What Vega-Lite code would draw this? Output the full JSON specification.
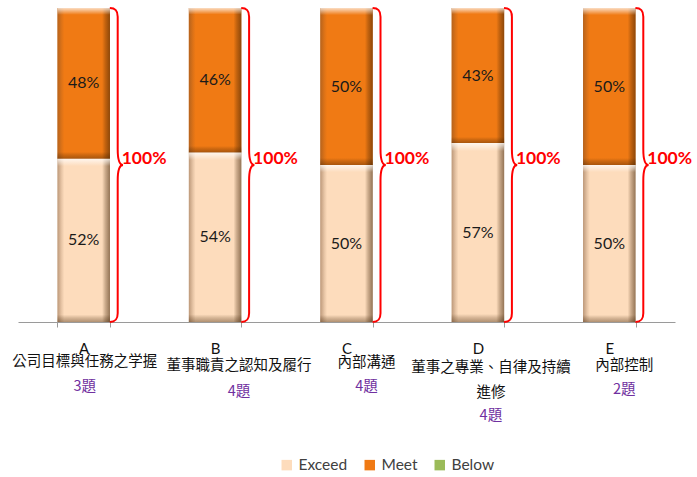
{
  "$schema": "https://vega.github.io/schema/vega-lite/v6.json",
  "width": 657,
  "height": 314,
  "autosize": {"type": "none"},
  "padding": {"left": 18, "top": 8, "right": 22, "bottom": 155},
  "background": "white",
  "config": {"view": {"stroke": null}},
  "datasets": {
    "main": [
      {"cat": "A", "series": "Exceed", "value": 0.52},
      {"cat": "A", "series": "Meet", "value": 0.48},
      {"cat": "B", "series": "Exceed", "value": 0.54},
      {"cat": "B", "series": "Meet", "value": 0.46},
      {"cat": "C", "series": "Exceed", "value": 0.50},
      {"cat": "C", "series": "Meet", "value": 0.50},
      {"cat": "D", "series": "Exceed", "value": 0.57},
      {"cat": "D", "series": "Meet", "value": 0.43},
      {"cat": "E", "series": "Exceed", "value": 0.50},
      {"cat": "E", "series": "Meet", "value": 0.50}
    ],
    "cats": [
      {"cat": "A", "total": 1},
      {"cat": "B", "total": 1},
      {"cat": "C", "total": 1},
      {"cat": "D", "total": 1},
      {"cat": "E", "total": 1}
    ]
  },
  "resolve": {"axis": {"x": "independent"}},
  "layer": [
    {
      "data": {"name": "main"},
      "mark": {"type": "bar"},
      "encoding": {
        "x": {
          "field": "cat", "type": "nominal",
          "scale": {"paddingInner": 0.6, "paddingOuter": 0.3},
          "axis": {
            "orient": "bottom", "title": null, "labelAngle": 0,
            "domainColor": "#9a9a9a", "tickColor": "#9a9a9a", "tickSize": 5,
            "tickBand": "extent", "labelPadding": 14, "labelFont": "Lato",
            "labelFontSize": 15, "labelColor": "#111111", "labelOverlap": false
          }
        },
        "y": {"field": "value", "type": "quantitative", "stack": "normalize",
              "scale": {"domain": [0, 1], "nice": false}, "axis": null},
        "order": {"field": "series", "sort": "ascending"},
        "color": {
          "field": "series", "type": "nominal",
          "scale": {"domain": ["Exceed", "Meet", "Below"],
                    "range": ["#FDDCBC", "#F07A14", "#9BBB59"]},
          "legend": {
            "orient": "none", "legendX": 261, "legendY": 449,
            "direction": "horizontal", "title": null, "symbolType": "square",
            "symbolSize": 110, "labelFont": "Lato", "labelFontSize": 15.5,
            "labelColor": "#404040", "columnPadding": 14, "labelOffset": 4,
            "symbolStrokeWidth": 0
          }
        }
      }
    },
    {
      "data": {"name": "main"},
      "mark": {
        "type": "bar",
        "fill": {
          "gradient": "linear", "x1": 0, "y1": 0, "x2": 1, "y2": 0,
          "stops": [
            {"offset": 0, "color": "rgba(110,70,40,0.45)"},
            {"offset": 0.08, "color": "rgba(110,70,40,0.15)"},
            {"offset": 0.13, "color": "rgba(110,70,40,0)"},
            {"offset": 0.85, "color": "rgba(60,30,0,0)"},
            {"offset": 0.91, "color": "rgba(60,30,0,0.25)"},
            {"offset": 1, "color": "rgba(60,30,0,0.55)"}
          ]
        }
      },
      "encoding": {
        "x": {
          "field": "cat", "type": "nominal",
          "axis": {
            "orient": "bottom", "title": null, "labelAngle": 0, "domain": false,
            "ticks": false, "labelFont": "Noto Sans CJK TC",
            "labelFontSize": 14.5, "labelColor": "#111111", "labelOverlap": false,
            "labelLineHeight": 25,
            "labelPadding": {"condition": [
              {"test": "datum.value == 'A'", "value": 32},
              {"test": "datum.value == 'B'", "value": 36},
              {"test": "datum.value == 'C'", "value": 33},
              {"test": "datum.value == 'D'", "value": 38}
            ], "value": 36},
            "labelOffset": {"condition": [
              {"test": "datum.value == 'A'", "value": 1},
              {"test": "datum.value == 'B'", "value": 24},
              {"test": "datum.value == 'C'", "value": 20},
              {"test": "datum.value == 'D'", "value": 13}
            ], "value": 15},
            "labelExpr": "{'A': '公司目標與任務之学握', 'B': '董事職責之認知及履行', 'C': '內部溝通', 'D': ['董事之專業、自律及持續', '進修'], 'E': '內部控制'}[datum.value]"
          }
        },
        "y": {"field": "value", "type": "quantitative", "stack": "normalize", "axis": null},
        "order": {"field": "series", "sort": "ascending"},
        "detail": {"field": "series"}
      }
    },
    {
      "data": {"name": "main"},
      "mark": {
        "type": "bar",
        "fill": {
          "gradient": "linear", "x1": 0, "y1": 0, "x2": 0, "y2": 1,
          "stops": [
            {"offset": 0, "color": "rgba(255,255,255,0.75)"},
            {"offset": 0.045, "color": "rgba(255,255,255,0)"},
            {"offset": 0.955, "color": "rgba(60,30,0,0)"},
            {"offset": 0.975, "color": "rgba(60,30,0,0.2)"},
            {"offset": 1, "color": "rgba(60,30,0,0.4)"}
          ]
        }
      },
      "encoding": {
        "x": {
          "field": "cat", "type": "nominal",
          "axis": {
            "orient": "bottom", "title": null, "labelAngle": 0, "domain": false,
            "ticks": false, "labelFont": "Noto Sans CJK TC",
            "labelFontSize": 14.5, "labelColor": "#7030A0", "labelOverlap": false,
            "labelLineHeight": 25,
            "labelPadding": {"condition": [
              {"test": "datum.value == 'A'", "value": 57},
              {"test": "datum.value == 'B'", "value": 62},
              {"test": "datum.value == 'C'", "value": 57},
              {"test": "datum.value == 'D'", "value": 61}
            ], "value": 60},
            "labelOffset": {"condition": [
              {"test": "datum.value == 'A'", "value": 1},
              {"test": "datum.value == 'B'", "value": 24},
              {"test": "datum.value == 'C'", "value": 20},
              {"test": "datum.value == 'D'", "value": 13}
            ], "value": 15},
            "labelExpr": "{'A': '3題', 'B': '4題', 'C': '4題', 'D': ['', '4題'], 'E': '2題'}[datum.value]"
          }
        },
        "y": {"field": "value", "type": "quantitative", "stack": "normalize", "axis": null},
        "order": {"field": "series", "sort": "ascending"},
        "detail": {"field": "series"}
      }
    },
    {
      "data": {"name": "main"},
      "transform": [
        {"stack": "value", "groupby": ["cat"], "sort": [{"field": "series", "order": "ascending"}], "as": ["v0", "v1"]},
        {"calculate": "(datum.v0 + datum.v1) / 2", "as": "mid"}
      ],
      "mark": {"type": "text", "font": "Lato", "fontSize": 16, "color": "#1a1a1a"},
      "encoding": {
        "x": {"field": "cat", "type": "nominal", "axis": null},
        "y": {"field": "mid", "type": "quantitative", "axis": null},
        "text": {"field": "value", "type": "quantitative", "format": ".0%"}
      }
    },
    {
      "data": {"name": "cats"},
      "mark": {
        "type": "point", "filled": false, "color": "#FF0000", "opacity": 1,
        "strokeWidth": 2, "size": 98596, "xOffset": 34,
        "shape": "M-0.05,-1 C-0.015,-1 0,-0.985 0,-0.945 L0,-0.1 C0,-0.03 0.012,0 0.034,0 C0.012,0 0,0.03 0,0.1 L0,0.945 C0,0.985 -0.015,1 -0.05,1"
      },
      "encoding": {
        "x": {"field": "cat", "type": "nominal", "axis": null},
        "y": {"datum": 0.5, "type": "quantitative", "axis": null}
      }
    },
    {
      "data": {"name": "cats"},
      "mark": {"type": "text", "align": "left", "dx": 38, "font": "Lato",
               "fontSize": 17.5, "fontWeight": "bold", "color": "#FF0000"},
      "encoding": {
        "x": {"field": "cat", "type": "nominal", "axis": null},
        "y": {"datum": 0.52, "type": "quantitative", "axis": null},
        "text": {"field": "total", "type": "quantitative", "format": ".0%"}
      }
    }
  ]
}
